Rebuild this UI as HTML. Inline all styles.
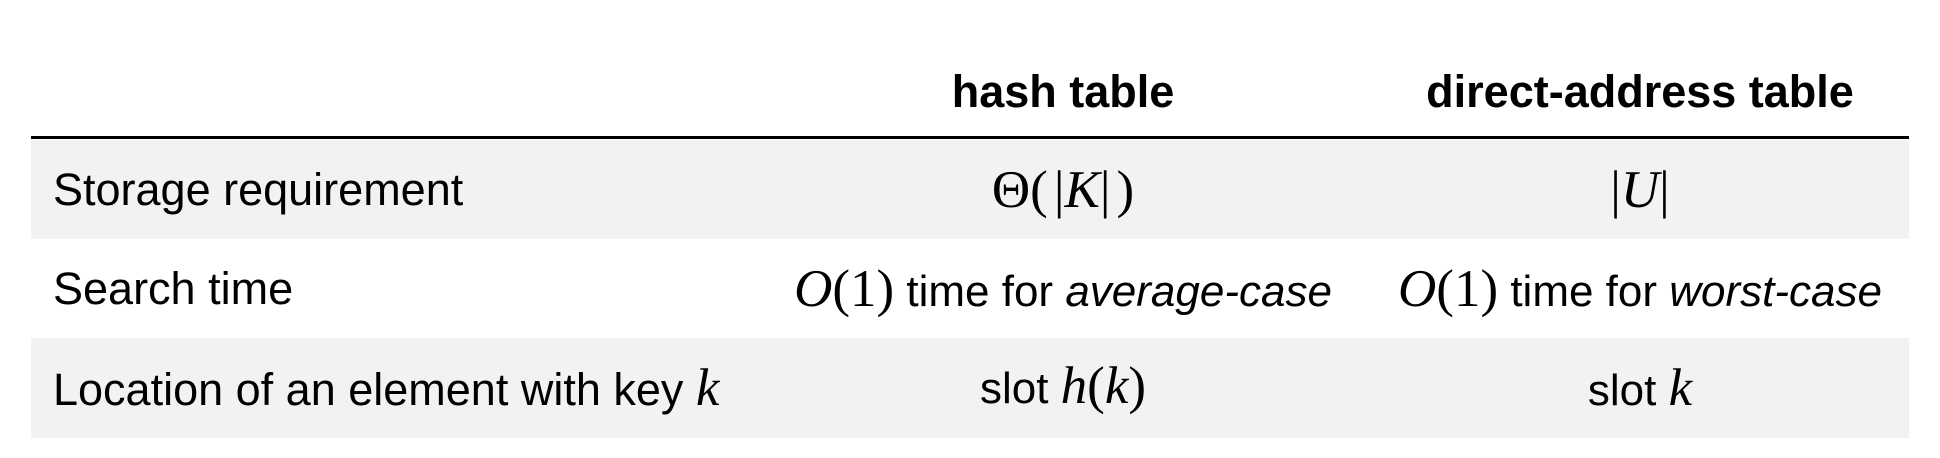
<!DOCTYPE html>
<html><head><meta charset="utf-8"><style>
html,body{margin:0;padding:0;background:#fff;width:1940px;height:458px;overflow:hidden}
body{position:relative;font-family:"Liberation Sans",Arial,sans-serif;color:#000}
.row{position:absolute;left:31px;width:1878px}
.bg{background:#f2f2f2}
.cell{position:absolute;white-space:nowrap;font-size:44px;height:100px;line-height:100px}
.c2{left:1063px;transform:translateX(-50%)}
.c3{left:1640px;transform:translateX(-50%)}
.m{font-family:"Liberation Serif",serif;font-size:53px}
.mi{font-family:"Liberation Serif",serif;font-style:italic;font-size:53px}
.h{font-weight:bold;font-size:45px}
.sp{display:inline-block;width:6px}
.lbl{font-size:45px}
</style></head><body>
<div>
<div class="cell h c2" style="top:42px">hash table</div>
<div class="cell h c3" style="top:42px">direct-address table</div>
<div class="row" style="top:136px;height:3px;background:#000"></div>
<div class="row bg" style="top:140px;height:99px"></div>
<div class="row bg" style="top:338px;height:100px"></div>

<div class="cell lbl" style="left:53px;top:140px">Storage requirement</div>
<div class="cell c2" style="top:140px"><span class="m">Θ(<span class="sp"></span>|</span><span class="mi">K</span><span class="m">|<span class="sp"></span>)</span></div>
<div class="cell c3" style="top:140px"><span class="m">|</span><span class="mi">U</span><span class="m">|</span></div>

<div class="cell lbl" style="left:53px;top:239px">Search time</div>
<div class="cell c2" style="top:239px"><span class="mi">O</span><span class="m">(1)</span> time for <i>average-case</i></div>
<div class="cell c3" style="top:239px"><span class="mi">O</span><span class="m">(1)</span> time for <i>worst-case</i></div>

<div class="cell lbl" style="left:53px;top:338px">Location of an element with key <span class="mi">k</span></div>
<div class="cell c2" style="top:336px">slot <span class="mi">h</span><span class="m">(</span><span class="mi">k</span><span class="m">)</span></div>
<div class="cell c3" style="top:338px">slot <span class="mi">k</span></div>
</div>
</body></html>
